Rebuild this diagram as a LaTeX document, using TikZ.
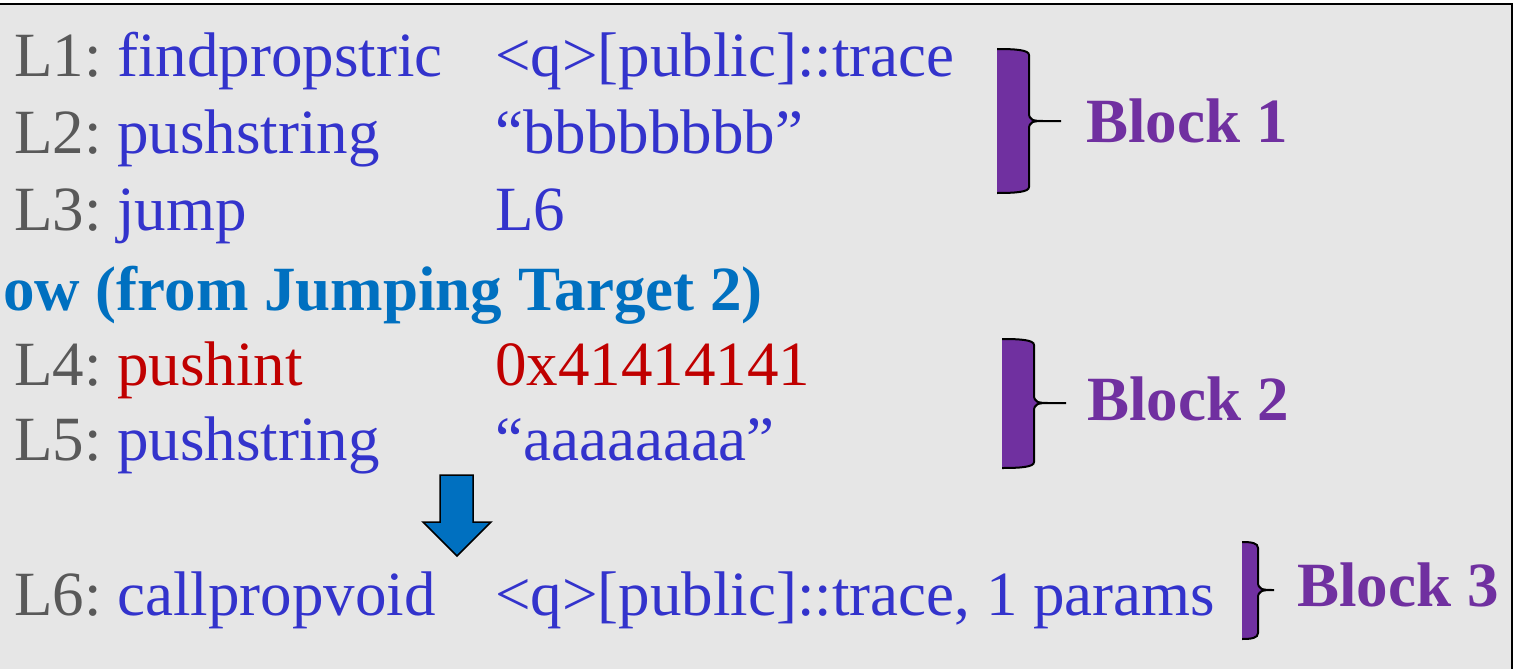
\documentclass[tikz,border=0pt]{standalone}
\usepackage{fontspec}
\setmainfont{Liberation Serif}
\definecolor{labelgray}{HTML}{595959}
\definecolor{opblue}{HTML}{3333CC}
\definecolor{opred}{HTML}{C00000}
\definecolor{blockpurple}{HTML}{7030A0}
\definecolor{flowblue}{HTML}{0070C0}
\definecolor{panelgray}{HTML}{E6E6E6}
\tikzset{
  code/.style={anchor=base west, inner sep=0pt, font=\fontsize{63}{75}\selectfont},
  lineno/.style={code, text=labelgray},
  op/.style={code, text=opblue},
  hot/.style={code, text=opred},
  blocklabel/.style={code, font=\fontsize{63}{75}\selectfont\bfseries, text=blockpurple},
  flowlabel/.style={code, font=\fontsize{63}{75}\selectfont\bfseries, text=flowblue},
  bracefill/.style={fill=blockpurple},
  braceline/.style={draw=black, line width=2pt},
}
% right brace filled on its inner side:
% #1 left x, #2 right x, #3 top y, #4 bottom y, #5 tip y, #6 tip x
\newcommand{\blockbrace}[6]{%
  \fill[bracefill] (#1,#3) .. controls (#1+0.6*#2-0.6*#1,#3) and (#2,#3+1) .. (#2,#3+6)
    -- (#2,#5-8) .. controls (#2,#5-1) and (#2+4,#5) .. (#2+14,#5)
    .. controls (#2+4,#5) and (#2,#5+1) .. (#2,#5+8)
    -- (#2,#4-6) .. controls (#2,#4-1) and (#1+0.6*#2-0.6*#1,#4) .. (#1,#4) -- cycle;
  \draw[braceline] (#1,#3) .. controls (#1+0.6*#2-0.6*#1,#3) and (#2,#3+1) .. (#2,#3+6)
    -- (#2,#5-8) .. controls (#2,#5-1) and (#2+4,#5) .. (#2+14,#5) -- (#6,#5)
    (#2+14,#5) .. controls (#2+4,#5) and (#2,#5+1) .. (#2,#5+8)
    -- (#2,#4-6) .. controls (#2,#4-1) and (#1+0.6*#2-0.6*#1,#4) .. (#1,#4);
}
\begin{document}
\begin{tikzpicture}[x=1pt,y=-1pt]
  \useasboundingbox (0,0) rectangle (1514,669);
  % panel
  \fill[white] (0,0) rectangle (1514,669);
  \fill[panelgray] (0,5) rectangle (1512,669);
  \draw[line width=2pt] (0,4.5) -- (1512,4.5) -- (1512,669);

  % code lines
  \node[lineno] (n1) at (14,77) {L1:};
  \node[op] (o1) at (117,77) {findpropstric};
  \node[op] (a1) at (495,77) {<q>[public]::trace};

  \node[lineno] (n2) at (14,153) {L2:};
  \node[op] (o2) at (117,153) {pushstring};
  \node[op] (a2) at (495,153) {“bbbbbbbb”};

  \node[lineno] (n3) at (14,230) {L3:};
  \node[op] (o3) at (117,230) {jump};
  \node[op] (a3) at (495,230) {L6};

  \node[flowlabel] (flow) at (3,310) {ow (from Jumping Target 2)};

  \node[lineno] (n4) at (14,385) {L4:};
  \node[hot] (o4) at (117,385) {pushint};
  \node[hot] (a4) at (495,385) {0x41414141};

  \node[lineno] (n5) at (14,460) {L5:};
  \node[op] (o5) at (117,460) {pushstring};
  \node[op] (a5) at (495,460) {“aaaaaaaa”};

  \node[lineno] (n6) at (14,615) {L6:};
  \node[op] (o6) at (117,615) {callpropvoid};
  \node[op] (a6) at (495,615) {<q>[public]::trace, 1 params};

  % down arrow
  \filldraw[fill=flowblue, draw=black, line width=1.5pt, line join=miter]
    (440,475) -- (473,475) -- (473,522) -- (491,522) -- (457,556)
    -- (423,522) -- (440,522) -- cycle;

  % block braces
  \blockbrace{997}{1029}{49}{193}{121}{1061}
  \node[blocklabel] (b1) at (1086,142) {Block 1};

  \blockbrace{1002}{1034}{339}{468}{403}{1066}
  \node[blocklabel] (b2) at (1087,420) {Block 2};

  \blockbrace{1242}{1258}{542}{639}{590}{1274}
  \node[blocklabel] (b3) at (1297,606) {Block 3};
\end{tikzpicture}
\end{document}
